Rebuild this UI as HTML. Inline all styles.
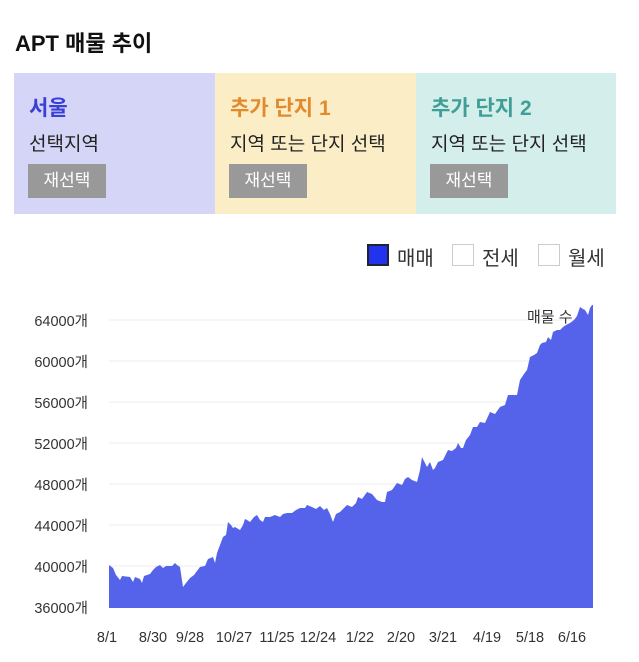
<!DOCTYPE html>
<html><head><meta charset="utf-8"><style>
body{margin:0;width:639px;height:662px;background:#fff;font-family:"Liberation Sans","Noto Sans CJK KR",sans-serif;overflow:hidden;position:relative}
.t{position:absolute;left:15px;top:26px;font-size:22px;font-weight:bold;color:#111}
.box{position:absolute;top:73px;height:141px;width:201px}
.h{position:absolute;left:15px;top:19px;font-size:21px;font-weight:bold}
.s{position:absolute;left:15px;top:56px;font-size:19px;color:#222}
.b{position:absolute;left:14px;top:91px;width:78px;height:34px;background:#999;color:#fff;font-size:17px;text-align:center;line-height:34px}
.lg{position:absolute;top:242px;height:24px;font-size:20px;color:#333}
.cb{position:absolute;width:20px;height:20px;border:1px solid #ccc;top:1px}
</style></head><body>
<div class="t">APT 매물 추이</div>
<div class="box" style="left:14px;background:#d5d6f7"><div class="h" style="color:#3a40d6">서울</div><div class="s">선택지역</div><div class="b">재선택</div></div>
<div class="box" style="left:215px;background:#fbedc5"><div class="h" style="color:#e38a2e">추가 단지 1</div><div class="s">지역 또는 단지 선택</div><div class="b">재선택</div></div>
<div class="box" style="left:416px;width:200px;background:#d4eeec"><div class="h" style="color:#3f9f96">추가 단지 2</div><div class="s">지역 또는 단지 선택</div><div class="b">재선택</div></div>
<div class="cb" style="left:367px;top:244px;background:#2233ee;border:2px solid #223;width:18px;height:18px"></div><div class="lg" style="left:397px">매매</div>
<div class="cb" style="left:452px;top:244px"></div><div class="lg" style="left:482px">전세</div>
<div class="cb" style="left:538px;top:244px"></div><div class="lg" style="left:568px">월세</div>
<svg width="639" height="662" style="position:absolute;left:0;top:0" font-family="Liberation Sans, Noto Sans CJK KR, sans-serif">
<g stroke="#eee" stroke-width="1">
<line x1="109" x2="593" y1="320" y2="320"/><line x1="109" x2="593" y1="361" y2="361"/><line x1="109" x2="593" y1="402" y2="402"/><line x1="109" x2="593" y1="443" y2="443"/><line x1="109" x2="593" y1="484" y2="484"/><line x1="109" x2="593" y1="525" y2="525"/><line x1="109" x2="593" y1="566" y2="566"/>
</g>
<path fill="#5563ea" d="M109,608 L109,565 L113,568 L116,575 L120,580 L122,576 L130,577 L133,582 L135,577 L140,579 L142,583 L144,576 L150,574 L153,570 L156,567 L160,565 L163,568 L166,566 L172,566 L175,563 L177,565 L180,567 L183,587 L186,583 L190,578 L194,575 L200,567 L205,566 L208,559 L213,557 L215,563 L217,553 L223,537 L226,535 L228,522 L231,525 L233,528 L235,527 L240,530 L243,525 L245,519 L247,520 L250,522 L254,517 L257,515 L260,520 L263,522 L265,517 L270,517 L275,515 L280,517 L283,514 L287,513 L292,513 L296,510 L300,508 L305,508 L307,505 L312,507 L316,509 L320,506 L324,510 L327,508 L330,514 L333,522 L336,514 L340,512 L344,508 L347,505 L352,507 L356,503 L358,497 L362,499 L367,492 L372,494 L377,500 L382,502 L385,502 L387,492 L392,490 L397,483 L402,485 L405,479 L408,477 L412,480 L417,482 L420,470 L422,457 L425,463 L427,467 L430,462 L433,470 L435,468 L438,462 L443,460 L448,450 L452,451 L456,448 L458,443 L461,448 L463,448 L466,440 L470,435 L473,427 L477,427 L480,422 L485,423 L490,412 L495,414 L500,407 L505,405 L508,395 L513,395 L517,395 L520,380 L524,374 L527,370 L530,357 L534,355 L537,353 L540,345 L542,343 L546,342 L548,337 L551,340 L553,332 L557,330 L560,330 L563,327 L566,325 L570,323 L574,320 L577,316 L580,307 L583,309 L585,310 L588,315 L590,308 L592,305 L593,305 L593,608 Z"/>
<text x="527" y="322" font-size="15" fill="#333">매물 수</text>
<g font-size="14.5" fill="#333" text-anchor="end">
<text x="88" y="326">64000개</text><text x="88" y="367">60000개</text><text x="88" y="408">56000개</text><text x="88" y="449">52000개</text><text x="88" y="490">48000개</text><text x="88" y="531">44000개</text><text x="88" y="572">40000개</text><text x="88" y="613">36000개</text>
</g>
<g font-size="14.5" fill="#333" text-anchor="middle">
<text x="107" y="642">8/1</text><text x="153" y="642">8/30</text><text x="190" y="642">9/28</text><text x="234" y="642">10/27</text><text x="277" y="642">11/25</text><text x="318" y="642">12/24</text><text x="360" y="642">1/22</text><text x="401" y="642">2/20</text><text x="443" y="642">3/21</text><text x="487" y="642">4/19</text><text x="530" y="642">5/18</text><text x="572" y="642">6/16</text>
</g>
</svg>
</body></html>
